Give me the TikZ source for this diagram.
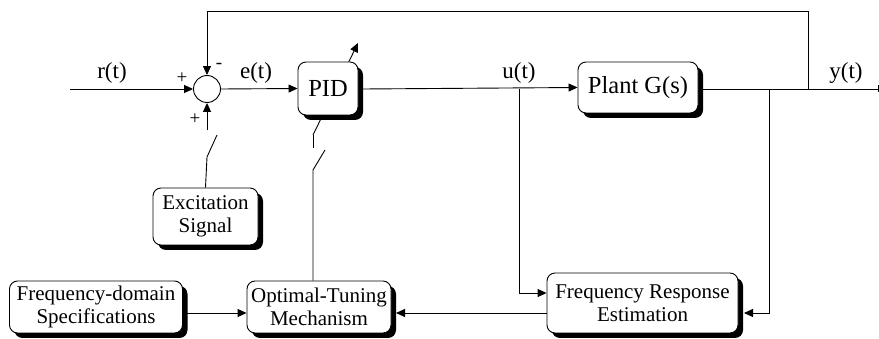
\documentclass[tikz,border=0pt]{standalone}
\usepackage{fontspec}
\setmainfont{Liberation Serif}
\usetikzlibrary{arrows.meta,shadows,calc}
\begin{document}
\begin{tikzpicture}[x=1pt,y=-1pt,
  blk/.style={draw=black,line width=0.9pt,fill=white,rounded corners=8pt,align=center,
    inner sep=0pt,
    drop shadow={shadow xshift=5pt,shadow yshift=-5pt,fill=black,opacity=1}},
  boxtxt/.style={font=\fontsize{21}{23.5}\selectfont},
  bigtxt/.style={font=\fontsize{24.5}{26}\selectfont},
  lbl/.style={font=\fontsize{23}{24}\selectfont,inner sep=0pt},
  sgn/.style={font=\fontsize{19}{20}\selectfont,inner sep=0pt},
  wire/.style={line width=0.9pt},
  arr/.style={wire,-{Triangle[length=9pt,width=8pt]}},
  every node/.style={text=black}]
\useasboundingbox (0,0) rectangle (879,339);

% tuning diagonal arrow through PID (drawn behind)
\coordinate (tunelow) at (313,135);
\coordinate (tunehigh) at (358,43);
\draw[arr] (tunelow) -- (tunehigh);

% blocks
\node[blk,bigtxt,minimum width=60pt,minimum height=53pt] (pid) at (328,88.5) {PID};
\node[blk,bigtxt,minimum width=120pt,minimum height=51pt] (plant) at (638,87.5) {Plant G(s)};
\node[blk,boxtxt,minimum width=105pt,minimum height=57pt] (exc) at (205.5,216.5) {Excitation\\Signal};
\node[blk,boxtxt,minimum width=173pt,minimum height=52pt] (fd) at (96,307) {Frequency-domain\\Specifications};
\node[blk,boxtxt,minimum width=144pt,minimum height=52pt] (ot) at (319,307) {Optimal-Tuning\\Mechanism};
\node[blk,boxtxt,minimum width=191pt,minimum height=60pt] (fre) at (642.5,303) {Frequency Response\\Estimation};

% summing junction
\node[draw,wire,circle,minimum size=27pt,inner sep=0pt] (sum) at (207,89) {};

% coordinates
\coordinate (in) at (70,89);
\coordinate (out) at (879,89);
\coordinate (ubr) at (519,89);
\coordinate (ybr) at (769,89);
\coordinate (fbk) at (808,89);
\coordinate (pidout) at (363,89);
\coordinate (plantout) at (703,89);

% main path
\draw[arr] (in) -- (sum.west);
\draw[arr] (sum.east) -- (pid.west);
\draw[arr] (pidout) -- (plant.west);
\draw[wire,-{Bar[width=7pt]}] (plantout) -- (out);

% feedback
\draw[arr] (fbk) -- (808,11) -- (207,11) -- (sum.north);

% excitation with switch
\draw[wire] (exc.north) -- (207,157) -- (217,135);
\draw[arr] (207,130) -- (sum.south);

% tuning path with switch
\draw[wire] (ot.north -| tunelow) -- (313,170) -- (325,150);
\draw[wire] (313,148) -- (tunelow);

% branches to estimator
\draw[arr] (ubr) -- (519,293) -- (fre.west |- 0,293);
\draw[arr] (ybr) -- (769,313) -- (744,313);
\draw[arr] (fre.west |- 0,313) -- (396,313);
\draw[arr] (187,313) -- (ot.west |- 0,313);

% labels
\node[lbl] (lr) at (112,73) {r(t)};
\node[lbl] (le) at (256,73) {e(t)};
\node[lbl] (lu) at (519,73) {u(t)};
\node[lbl] (ly) at (846,73) {y(t)};
\node[sgn] (p1) at (182,78) {+};
\node[sgn] (m1) at (219,66) {-};
\node[sgn] (p2) at (195,119) {+};
\end{tikzpicture}
\end{document}
